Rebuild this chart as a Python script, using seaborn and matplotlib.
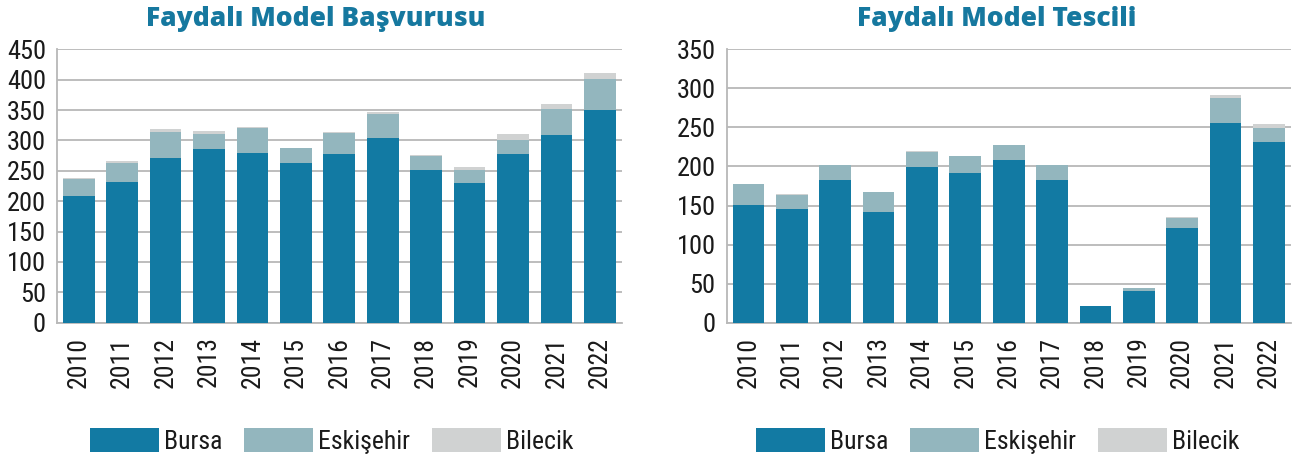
import os
import numpy as np
import pandas as pd
import matplotlib
matplotlib.use("Agg")
import matplotlib.pyplot as plt
import seaborn as sns
from matplotlib import font_manager as fm
from matplotlib.patches import Patch
from matplotlib.ticker import FixedLocator, MultipleLocator

# ---------------- data ----------------
years = ["2010", "2011", "2012", "2013", "2014", "2015", "2016",
         "2017", "2018", "2019", "2020", "2021", "2022"]

# Faydalı Model Başvurusu
bursa_app = [208, 231, 271, 286, 279, 263, 278, 304, 251, 230, 278, 309, 350]
eskisehir_app = [28, 32, 43, 25, 41, 25, 34, 40, 23, 21, 23, 43, 51]
bilecik_app = [2, 3, 5, 5, 2, 0, 2, 3, 2, 5, 10, 8, 10]

# Faydalı Model Tescili
bursa_reg = [151, 146, 183, 142, 199, 192, 208, 183, 21, 41, 121, 256, 231]
eskisehir_reg = [27, 18, 19, 25, 19, 21, 19, 19, 1, 4, 13, 32, 18]
bilecik_reg = [0, 1, 0, 0, 2, 0, 0, 0, 0, 0, 1, 4, 6]

series_names = ["Bursa", "Eskişehir", "Bilecik"]
titles = ["Faydalı Model Başvurusu", "Faydalı Model Tescili"]
ylims = [450, 350]

# ---------------- fonts ----------------
sns.set_theme(style="white")
plt.rcParams["font.family"] = ["DejaVu Sans"]

_files = {}
for f in fm.fontManager.ttflist:
    _files.setdefault(os.path.basename(f.fname).lower(), f.fname)


def pick(prefs):
    for p in prefs:
        if p.lower() in _files:
            return _files[p.lower()]
    return None


cond_file = pick(["RobotoCondensed-Regular.ttf", "NotoSans-Condensed.ttf",
                  "LiberationSansNarrow-Regular.ttf", "OpenSans-CondLight.ttf",
                  "DejaVuSansCondensed.ttf"])
title_file = pick(["OpenSans-ExtraBold.ttf", "Lato-Black.ttf", "Lato-Heavy.ttf",
                   "Roboto-Black.ttf", "Lato-Bold.ttf"])


def fp(file, size, **kw):
    if file:
        return fm.FontProperties(fname=file, size=size)
    return fm.FontProperties(family="DejaVu Sans", size=size, **kw)


c_bursa = "#127AA3"
c_esk = "#93B6BE"
c_bil = "#D0D2D2"
colors = [c_bursa, c_esk, c_bil]
grid_c = "#B8B8B8"
title_c = "#16789F"
text_c = "#1A1A1A"

W, H = 1301, 462
fig = plt.figure(figsize=(W / 100, H / 100), dpi=100)

axes_px = [(57, 621.5), (726.7, 1290.7)]
ax_top, ax_bot = 49.3, 322.7
title_cx = [316, 997]
legend_cx = [332, 998]

datasets = [(bursa_app, eskisehir_app, bilecik_app),
            (bursa_reg, eskisehir_reg, bilecik_reg)]

for i, (b, e, l) in enumerate(datasets):
    x0, x1 = axes_px[i]
    ax = fig.add_axes([x0 / W, (H - ax_bot) / H, (x1 - x0) / W, (ax_bot - ax_top) / H])
    df = pd.DataFrame({"year": years, "Bursa": b, "Eskişehir": e, "Bilecik": l})
    df["lvl2"] = df["Bursa"] + df["Eskişehir"]
    df["lvl3"] = df["lvl2"] + df["Bilecik"]

    for col, c in zip(["lvl3", "lvl2", "Bursa"], [c_bil, c_esk, c_bursa]):
        sns.barplot(data=df, x="year", y=col, order=years, color=c,
                    width=0.73, saturation=1, linewidth=0, ax=ax, zorder=3)

    ax.set_xlim(-0.5, len(years) - 0.5)
    ax.set_ylim(0, ylims[i])
    ax.yaxis.set_major_locator(MultipleLocator(50))
    ax.grid(axis="y", color=grid_c, linewidth=1.3, zorder=0)
    ax.set_axisbelow(True)
    ax.set_xlabel("")
    ax.set_ylabel("")

    for s in ["top", "right"]:
        ax.spines[s].set_visible(False)
    for s in ["left", "bottom"]:
        ax.spines[s].set_color(grid_c)
        ax.spines[s].set_linewidth(1.3)

    ax.tick_params(axis="y", length=0, pad=8, labelcolor=text_c)
    ax.tick_params(axis="x", which="major", length=0, pad=10,
                   labelcolor=text_c, labelrotation=90)
    ax.xaxis.set_minor_locator(FixedLocator(np.arange(0.5, len(years), 1.0)))
    ax.tick_params(axis="x", which="minor", direction="in", length=5,
                   width=1.1, color=grid_c)
    for lab in ax.get_yticklabels():
        lab.set_fontproperties(fp(cond_file, 19))
    for lab in ax.get_xticklabels():
        lab.set_fontproperties(fp(cond_file, 18.5))
        lab.set_verticalalignment("top")

    fig.text(title_cx[i] / W, (H - 26) / H, titles[i], ha="center", va="baseline",
             fontproperties=fp(title_file, 19, weight="bold"), color=title_c)

    handles = [Patch(facecolor=c, edgecolor="none") for c in colors]
    fig.legend(handles, series_names, loc="center",
               bbox_to_anchor=(legend_cx[i] / W, (H - 440.7) / H),
               ncol=3, frameon=False, prop=fp(cond_file, 18.5), handlelength=2.68,
               handleheight=1.09, handletextpad=0.2, columnspacing=0.85,
               labelcolor=text_c)

fig.savefig("out.png", dpi=100)
